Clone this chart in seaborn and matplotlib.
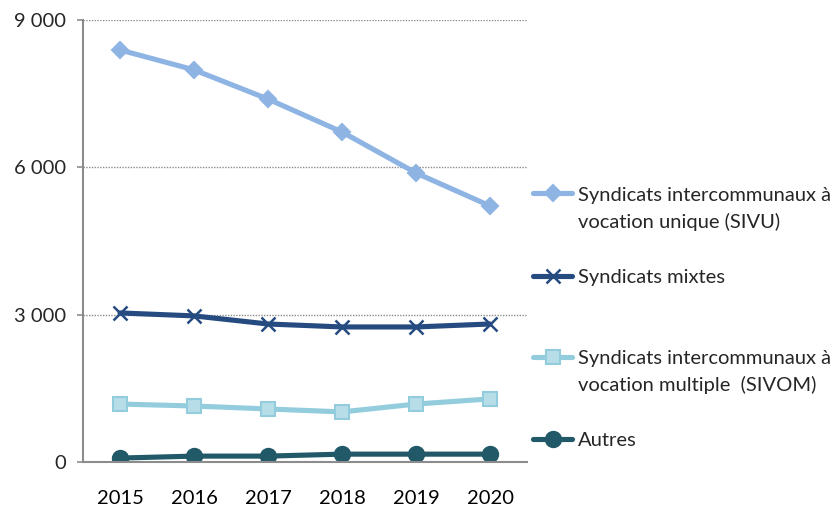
import pandas as pd
import numpy as np
import matplotlib
matplotlib.use("Agg")
import matplotlib.pyplot as plt
import seaborn as sns
from matplotlib.ticker import FuncFormatter, FixedLocator

years = ["2015", "2016", "2017", "2018", "2019", "2020"]
sivu = [8390, 7985, 7390, 6720, 5885, 5215]
mixtes = [3035, 2975, 2810, 2750, 2750, 2810]
sivom = [1180, 1140, 1080, 1020, 1180, 1285]
autres = [80, 120, 120, 160, 160, 160]

labels = ["Syndicats intercommunaux à\nvocation unique (SIVU)",
          "Syndicats mixtes",
          "Syndicats intercommunaux à\nvocation multiple  (SIVOM)",
          "Autres"]

df = pd.DataFrame({
    "annee": years * 4,
    "valeur": sivu + mixtes + sivom + autres,
    "serie": [l for l in labels for _ in years],
})

sns.set_theme(style="white")
plt.rcParams["font.family"] = ["Lato", "DejaVu Sans"]

W, H = 833, 507
fig = plt.figure(figsize=(W / 100, H / 100), dpi=100)
ax = fig.add_axes([83 / W, 1 - 462 / H, (527 - 83) / W, (462 - 20) / H])

line_colors = ["#8EB4E3", "#254B80", "#93CDDD", "#215968"]
face_colors = ["#8EB4E3", "#254B80", "#B7DEE8", "#215968"]
markers = ["D", "x", "s", "o"]
sizes = [8, 10, 10, 11]

for lab, lc, fc, mk, ms in zip(labels, line_colors, face_colors, markers, sizes):
    sub = df[df["serie"] == lab]
    sns.lineplot(data=sub, x="annee", y="valeur", ax=ax, color=lc, linewidth=3.7,
                 marker=mk, markersize=ms, markerfacecolor=fc,
                 markeredgecolor=lc, markeredgewidth=1.5 if mk != "x" else 1.8,
                 label=lab, sort=False)

ax.set_xlim(-0.5, 5.5)
ax.set_ylim(0, 9000)
ax.set_yticks([0, 3000, 6000, 9000])
ax.yaxis.set_major_formatter(FuncFormatter(lambda v, p: f"{int(v):,}".replace(",", " ")))
ax.set_xlabel("")
ax.set_ylabel("")

for yv in [3000, 6000, 9000]:
    ax.axhline(yv, color="#8c8c8c", linestyle=(0, (1, 1)), linewidth=1, zorder=0)

for s in ["top", "right"]:
    ax.spines[s].set_visible(False)
for s in ["left", "bottom"]:
    ax.spines[s].set_color("#8c8c8c")
    ax.spines[s].set_linewidth(1.5)

ax.xaxis.set_minor_locator(FixedLocator(np.arange(-0.5, 6.0, 1.0)))
ax.tick_params(axis="x", which="major", length=0, pad=20, labelsize=14.5, colors="#000000")
ax.tick_params(axis="x", which="minor", length=6, width=1.2, color="#8c8c8c", direction="out")
ax.tick_params(axis="y", which="major", length=4, width=1.2, color="#8c8c8c", direction="out",
               labelsize=14.5, pad=8)
ax.tick_params(axis="y", left=True)

# legend: one entry per block, handle aligned with the first text line
handles, hlabels = ax.get_legend_handles_labels()
ax.get_legend().remove()
entry_y = [195, 277, 358, 440]
for h, lab, yy in zip(handles, hlabels, entry_y):
    first, *rest = lab.split("\n")
    leg = fig.legend([h], [first], loc="center left", bbox_to_anchor=(533 / W, 1 - yy / H),
                     frameon=False, fontsize=14.5, handlelength=1.95, handletextpad=0.3,
                     borderpad=0, borderaxespad=0)
    for i, line in enumerate(rest):
        fig.text(578 / W, 1 - (yy + 27 * (i + 1)) / H, line, fontsize=14.5, va="center", ha="left")

fig.savefig("out.png", dpi=100)
